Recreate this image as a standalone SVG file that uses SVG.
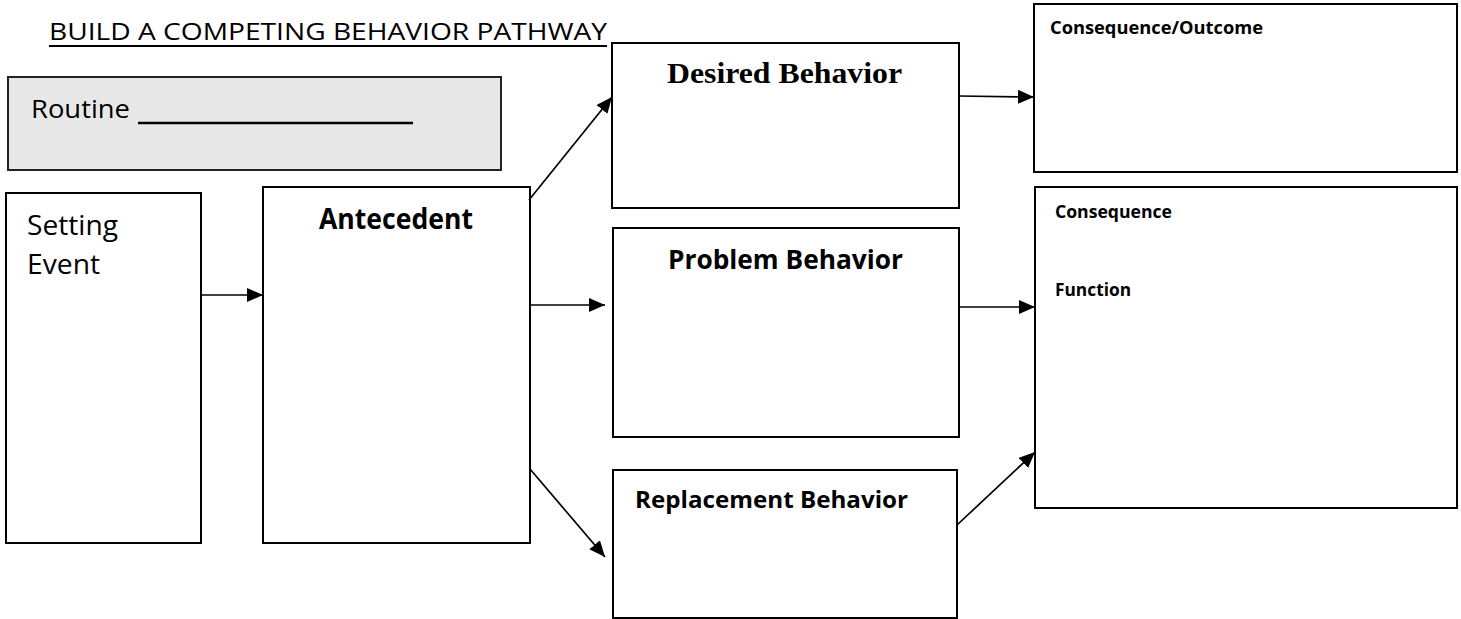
<svg xmlns="http://www.w3.org/2000/svg" width="1461" height="619" viewBox="0 0 1461 619">
<style>
.box{fill:#fff;stroke:#000;stroke-width:2}
.gray{fill:#e8e8e8;stroke:#222;stroke-width:2}
.sans{font-family:"Open Sans","Noto Sans","Liberation Sans",sans-serif;fill:#000}
.b{font-weight:bold}
.serif{font-family:"Liberation Serif","Times New Roman",serif;font-weight:bold;fill:#000}
.conn line{stroke:#000;stroke-width:1.7;marker-end:url(#ah)}
</style>
<defs>
<marker id="ah" viewBox="0 0 16 14" refX="16" refY="7" markerWidth="16" markerHeight="14" markerUnits="userSpaceOnUse" orient="auto">
<path d="M0,0 L16,7 L0,14 z" fill="#000"/>
</marker>
</defs>
<rect width="1461" height="619" fill="#fff"/>
<g id="title">
<text class="sans" x="49" y="40" font-size="24" textLength="558" lengthAdjust="spacingAndGlyphs">BUILD A COMPETING BEHAVIOR PATHWAY</text>
<line x1="49" y1="46" x2="607" y2="46" stroke="#000" stroke-width="2"/>
</g>
<g id="routine">
<rect class="gray" x="8" y="77" width="493" height="93"/>
<text class="sans" x="31" y="118" font-size="25" textLength="99" lengthAdjust="spacingAndGlyphs">Routine</text>
<line x1="138" y1="123" x2="413" y2="123" stroke="#000" stroke-width="2.6"/>
</g>
<g id="setting-event">
<rect class="box" x="6" y="193" width="195" height="350"/>
<text class="sans" x="27" y="235" font-size="28" textLength="91" lengthAdjust="spacingAndGlyphs">Setting</text>
<text class="sans" x="27" y="274" font-size="28" textLength="73" lengthAdjust="spacingAndGlyphs">Event</text>
</g>
<g id="antecedent">
<rect class="box" x="263" y="187" width="267" height="356"/>
<text class="sans b" x="319" y="229" font-size="28" textLength="154" lengthAdjust="spacingAndGlyphs">Antecedent</text>
</g>
<g id="desired-behavior">
<rect class="box" x="612" y="43" width="347" height="165"/>
<text class="serif" x="667" y="83" font-size="30" textLength="235" lengthAdjust="spacingAndGlyphs">Desired Behavior</text>
</g>
<g id="problem-behavior">
<rect class="box" x="613" y="228" width="346" height="209"/>
<text class="sans b" x="668" y="269" font-size="27" textLength="235" lengthAdjust="spacingAndGlyphs">Problem Behavior</text>
</g>
<g id="replacement-behavior">
<rect class="box" x="613" y="470" width="344" height="148"/>
<text class="sans b" x="635" y="508" font-size="24" textLength="273" lengthAdjust="spacingAndGlyphs">Replacement Behavior</text>
</g>
<g id="consequence-outcome">
<rect class="box" x="1034" y="4" width="423" height="168"/>
<text class="sans b" x="1050" y="34" font-size="18" textLength="213" lengthAdjust="spacingAndGlyphs">Consequence/Outcome</text>
</g>
<g id="consequence-function">
<rect class="box" x="1035" y="187" width="422" height="321"/>
<text class="sans b" x="1055" y="218" font-size="18" textLength="117" lengthAdjust="spacingAndGlyphs">Consequence</text>
<text class="sans b" x="1055" y="296" font-size="18" textLength="76" lengthAdjust="spacingAndGlyphs">Function</text>
</g>
<g id="connectors" class="conn">
<line x1="201" y1="295" x2="263" y2="295"/>
<line x1="529" y1="200" x2="612" y2="97"/>
<line x1="530" y1="305" x2="605" y2="305"/>
<line x1="530" y1="469" x2="605" y2="557"/>
<line x1="959" y1="96" x2="1034" y2="97"/>
<line x1="959" y1="307" x2="1035" y2="307"/>
<line x1="957" y1="525" x2="1035" y2="452"/>
</g>
</svg>
